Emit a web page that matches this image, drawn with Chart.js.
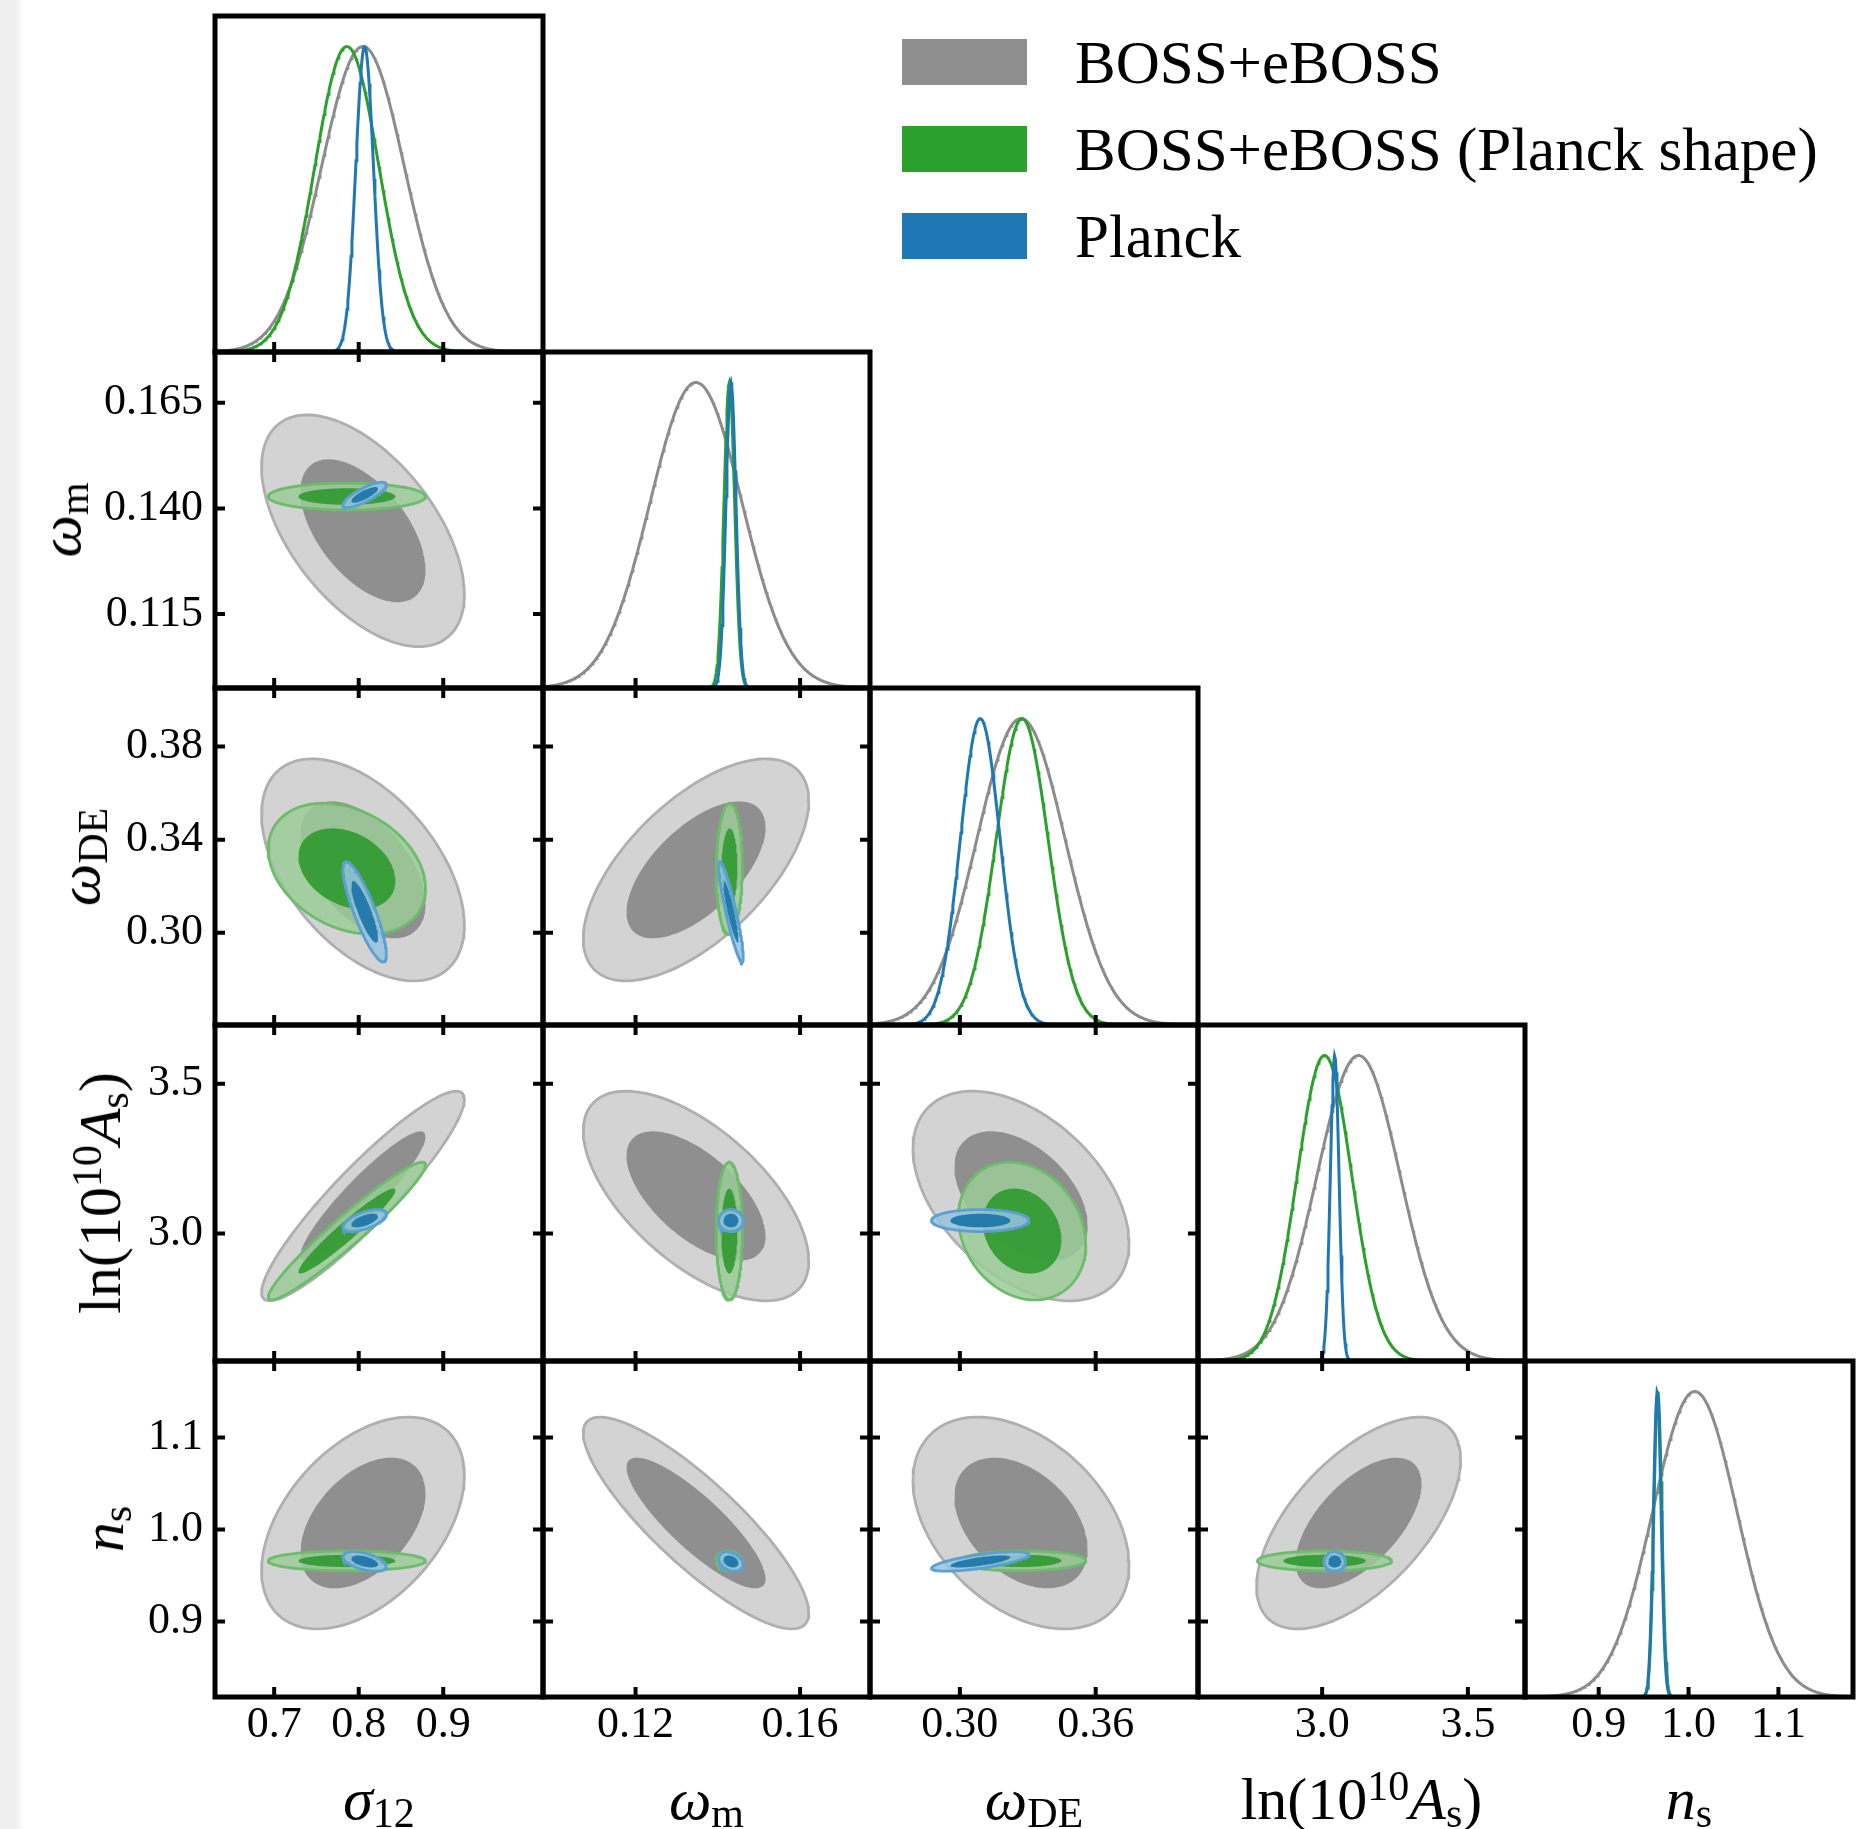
<!DOCTYPE html>
<html>
<head>
<meta charset="utf-8">
<title>BOSS+eBOSS vs Planck corner plot</title>
<script src="https://cdn.jsdelivr.net/npm/chart.js@4.4.1/dist/chart.umd.min.js"></script>
<style>
  html, body { margin: 0; padding: 0; background: #fff; }
  body { width: 1859px; height: 1829px; position: relative; overflow: hidden;
         font-family: 'Liberation Serif', 'Times New Roman', serif; color: #000; }
  .strip { position: absolute; left: 0; top: 0; width: 24px; height: 1829px;
           background: linear-gradient(to right, #efefef 0px, #efefef 15px, #ffffff 23px); }
  canvas { position: absolute; }
  .axis-title { position: absolute; font-size: 60px; line-height: 60px; white-space: nowrap; }
  .axis-title sub { font-size: 0.7em; vertical-align: -0.2em; line-height: 0; }
  .axis-title sup { font-size: 0.7em; vertical-align: 0.45em; line-height: 0; }
  .swatch { position: absolute; width: 125px; height: 46px; }
  .legend-text { position: absolute; font-size: 61px; line-height: 60px; white-space: nowrap; }
</style>
</head>
<body>
<div class="strip"></div>
<script>
document.addEventListener("DOMContentLoaded", function () {
  const FONT = "'Liberation Serif', 'Times New Roman', serif";
  Chart.defaults.font.family = FONT;

  // ---- data ----
  const paramTitles = [
    '<i>σ</i><sub>12</sub>',
    '<i>ω</i><sub>m</sub>',
    '<i>ω</i><sub>DE</sub>',
    'ln(10<sup>10</sup><i>A</i><sub>s</sub>)',
    '<i>n</i><sub>s</sub>'
  ];
  const axisMin = [0.630, 0.0975, 0.2603, 2.574, 0.818];
  const axisMax = [1.018, 0.1770, 0.4052, 3.696, 1.183];

  const xTickValues = [[0.7, 0.8, 0.9], [0.12, 0.16], [0.30, 0.36], [3.0, 3.5], [0.9, 1.0, 1.1]];
  const xTickLabels = [['0.7', '0.8', '0.9'], ['0.12', '0.16'], ['0.30', '0.36'], ['3.0', '3.5'], ['0.9', '1.0', '1.1']];
  const yTickValues = [[], [0.115, 0.140, 0.165], [0.30, 0.34, 0.38], [3.0, 3.5], [0.9, 1.0, 1.1]];
  const yTickLabels = [[], ['0.115', '0.140', '0.165'], ['0.30', '0.34', '0.38'], ['3.0', '3.5'], ['0.9', '1.0', '1.1']];

  const seriesNames = ['BOSS+eBOSS', 'BOSS+eBOSS (Planck shape)', 'Planck'];

  // posterior means and widths per parameter (sigma12, omega_m, omega_DE, ln10^10As, n_s)
  const bossMean = [0.805, 0.1347, 0.327, 3.125, 1.007];
  const bossSigma = [0.049, 0.0112, 0.0195, 0.143, 0.047];
  const bossShapeMean = [0.786, 0.1428, 0.3275, 3.008, 0.9658];
  const bossShapeSigma = [0.038, 0.0013, 0.0115, 0.094, 0.0044];
  const planckMean = [0.807, 0.1432, 0.309, 3.043, 0.9652];
  const planckSigma = [0.0105, 0.00122, 0.0088, 0.015, 0.0043];

  // correlations, pairs (row,col): (1,0) (2,0) (2,1) (3,0) (3,1) (3,2) (4,0) (4,1) (4,2) (4,3)
  const bossCorr = [-0.55, -0.5, 0.62, 0.92, -0.62, -0.45, 0.45, -0.85, -0.4, 0.6];
  const bossShapeCorr = [0.0, -0.3, 0.05, 0.96, 0.0, -0.2, 0.0, -0.1, 0.05, 0.0];
  const planckCorr = [0.8, -0.85, -0.9, 0.6, 0.0, 0.0, -0.5, -0.3, 0.7, 0.0];

  const contourLevels = [0.95, 0.68];

  // ---- styles ----
  const seriesLine = ['#8c8c8c', '#2ca02c', '#1f77b4'];
  const seriesSwatch = ['#8f8f8f', '#2ca02c', '#1f77b4'];
  const seriesOuterFill = ['rgb(211,211,211)', 'rgba(155,205,152,0.85)', 'rgba(150,195,225,0.85)'];
  const seriesInnerFill = ['rgb(143,143,143)', 'rgba(50,155,50,0.93)', 'rgba(31,119,170,0.95)'];
  const seriesEdge = ['rgb(175,175,175)', 'rgb(108,188,108)', 'rgb(92,160,210)'];

  const series = [
    { mean: bossMean, sigma: bossSigma, corr: bossCorr },
    { mean: bossShapeMean, sigma: bossShapeSigma, corr: bossShapeCorr },
    { mean: planckMean, sigma: planckSigma, corr: planckCorr }
  ];

  // ---- layout ----
  const X = [215, 543, 870, 1198, 1525, 1853];
  const Y = [16, 352, 688, 1025, 1361, 1697];
  const MARGIN = 14;
  const TICK_LEN = 10;
  const yAxisW = X[0] - MARGIN;
  const xAxisH = 1829 - Y[5] - MARGIN;

  const pairIndex = (r, c) => r * (r - 1) / 2 + c;

  function framePlugin(xTicks, yTicks, is2D) {
    return {
      id: 'panelFrame',
      afterDraw(chart) {
        const { ctx, chartArea: a, scales } = chart;
        ctx.save();
        ctx.strokeStyle = '#000';
        ctx.lineWidth = 4;
        ctx.beginPath();
        xTicks.forEach(v => {
          const px = scales.x.getPixelForValue(v);
          ctx.moveTo(px, a.bottom); ctx.lineTo(px, a.bottom - TICK_LEN);
          if (is2D) { ctx.moveTo(px, a.top); ctx.lineTo(px, a.top + TICK_LEN); }
        });
        if (is2D) {
          yTicks.forEach(v => {
            const py = scales.y.getPixelForValue(v);
            ctx.moveTo(a.left, py); ctx.lineTo(a.left + TICK_LEN, py);
            ctx.moveTo(a.right, py); ctx.lineTo(a.right - TICK_LEN, py);
          });
        }
        ctx.stroke();
        ctx.lineWidth = 5;
        ctx.strokeRect(a.left, a.top, a.right - a.left, a.bottom - a.top);
        ctx.restore();
      }
    };
  }

  function curveDatasets(i) {
    const N = 400;
    return series.map((s, k) => {
      const pts = [];
      for (let j = 0; j <= N; j++) {
        const x = axisMin[i] + (axisMax[i] - axisMin[i]) * j / N;
        const z = (x - s.mean[i]) / s.sigma[i];
        pts.push({ x: x, y: Math.exp(-0.5 * z * z) });
      }
      return {
        label: seriesNames[k], data: pts, borderColor: seriesLine[k], borderWidth: 3,
        pointRadius: 0, fill: false, tension: 0, order: -k
      };
    });
  }

  function contourDatasets(r, c) {
    const M = 140;
    const sets = [];
    series.forEach((s, k) => {
      const rho = s.corr[pairIndex(r, c)];
      contourLevels.forEach((p, l) => {
        const rad = Math.sqrt(-2 * Math.log(1 - p));
        const pts = [];
        for (let j = 0; j <= M; j++) {
          const t = 2 * Math.PI * j / M;
          const u = Math.cos(t), v = Math.sin(t);
          pts.push({
            x: s.mean[c] + rad * s.sigma[c] * u,
            y: s.mean[r] + rad * s.sigma[r] * (rho * u + Math.sqrt(1 - rho * rho) * v)
          });
        }
        sets.push({
          label: seriesNames[k] + ' ' + Math.round(p * 100) + '%',
          data: pts, fill: 'shape', tension: 0, pointRadius: 0,
          backgroundColor: l === 0 ? seriesOuterFill[k] : seriesInnerFill[k],
          borderColor: l === 0 ? seriesEdge[k] : 'rgba(0,0,0,0)',
          borderWidth: l === 0 ? 2.8 : 0,
          order: -(k * 2 + l)
        });
      });
    });
    return sets;
  }

  function makePanel(r, c) {
    const is2D = r !== c;
    const showY = is2D && c === 0;
    const showX = r === 4;
    const left = X[c] - MARGIN - (showY ? yAxisW : 0);
    const top = Y[r] - MARGIN;
    const w = X[c + 1] - X[c] + 2 * MARGIN + (showY ? yAxisW : 0);
    const h = Y[r + 1] - Y[r] + 2 * MARGIN + (showX ? xAxisH : 0);

    const canvas = document.createElement('canvas');
    canvas.width = w;
    canvas.height = h;
    canvas.style.left = left + 'px';
    canvas.style.top = top + 'px';
    canvas.style.width = w + 'px';
    canvas.style.height = h + 'px';
    document.body.appendChild(canvas);

    const xScale = {
      type: 'linear', min: axisMin[c], max: axisMax[c], display: showX,
      grid: { display: false, drawTicks: false }, border: { display: false },
      ticks: {
        font: { family: FONT, size: 44 }, color: '#000', padding: 2,
        maxRotation: 0, minRotation: 0, autoSkip: false,
        callback: (v, i) => xTickLabels[c][i]
      },
      afterBuildTicks: s => { s.ticks = xTickValues[c].map(v => ({ value: v })); }
    };
    if (showX) xScale.afterFit = s => { s.height = xAxisH; s.paddingLeft = 0; s.paddingRight = 0; };

    const yScale = {
      type: 'linear', min: is2D ? axisMin[r] : 0, max: is2D ? axisMax[r] : 1.1, display: showY,
      grid: { display: false, drawTicks: false }, border: { display: false },
      ticks: {
        font: { family: FONT, size: 44 }, color: '#000', padding: 12, autoSkip: false,
        callback: (v, i) => yTickLabels[r][i]
      },
      afterBuildTicks: s => { if (is2D) s.ticks = yTickValues[r].map(v => ({ value: v })); }
    };
    // labels sit well inside the panel, so no extra room above/below is needed
    if (showY) yScale.afterFit = s => { s.width = yAxisW; s.paddingTop = 0; s.paddingBottom = 0; };

    new Chart(canvas, {
      type: 'line',
      data: { datasets: is2D ? contourDatasets(r, c) : curveDatasets(r) },
      options: {
        responsive: false, animation: false, devicePixelRatio: 1, events: [],
        layout: { padding: MARGIN },
        plugins: { legend: { display: false }, tooltip: { enabled: false } },
        scales: { x: xScale, y: yScale }
      },
      plugins: [framePlugin(xTickValues[c], yTickValues[r], is2D)]
    });
  }

  for (let r = 0; r < 5; r++) {
    for (let c = 0; c <= r; c++) makePanel(r, c);
  }

  // ---- axis titles ----
  const xTitleBaseline = 1819;
  const yTitleCenterX = [0, 60, 79, 100, 103];
  paramTitles.forEach((t, i) => {
    const d = document.createElement('div');
    d.className = 'axis-title';
    d.innerHTML = t;
    d.style.left = ((X[i] + X[i + 1]) / 2) + 'px';
    d.style.top = (xTitleBaseline - 50) + 'px';
    d.style.transform = 'translateX(-50%)';
    document.body.appendChild(d);
    if (i > 0) {
      const e = document.createElement('div');
      e.className = 'axis-title';
      e.innerHTML = t;
      e.style.left = yTitleCenterX[i] + 'px';
      e.style.top = ((Y[i] + Y[i + 1]) / 2) + 'px';
      e.style.transform = 'translate(-50%, -50%) rotate(-90deg)';
      document.body.appendChild(e);
    }
  });

  // ---- legend ----
  seriesNames.forEach((name, k) => {
    const patchTop = 39 + k * 87;
    const sw = document.createElement('div');
    sw.className = 'swatch';
    sw.style.left = '902px';
    sw.style.top = patchTop + 'px';
    sw.style.background = seriesSwatch[k];
    document.body.appendChild(sw);
    const tx = document.createElement('div');
    tx.className = 'legend-text';
    tx.textContent = name;
    tx.style.left = '1075px';
    tx.style.top = (patchTop + 44 - 50) + 'px';
    document.body.appendChild(tx);
  });
});
</script>
</body>
</html>
